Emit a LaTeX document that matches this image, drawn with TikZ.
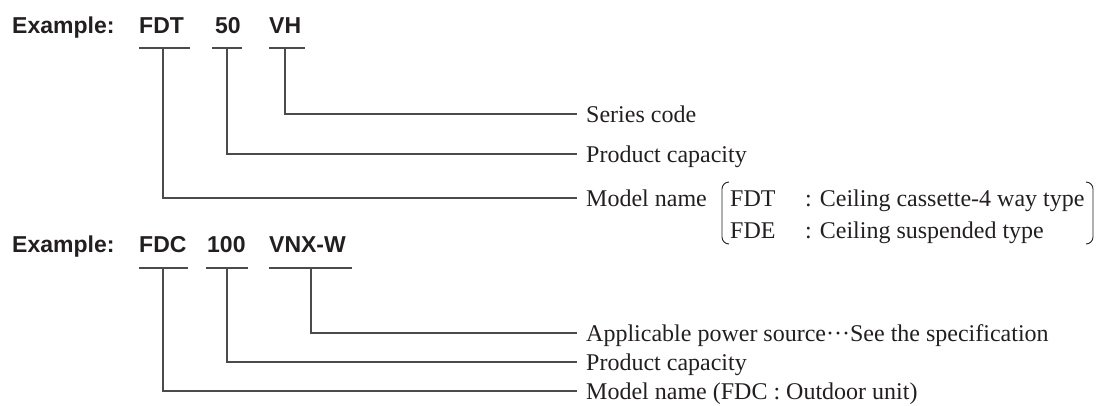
\documentclass[tikz,border=0pt]{standalone}
\usepackage{fontspec}
\setmainfont{Liberation Serif}
\newfontfamily\codefont{Liberation Sans}
\usetikzlibrary{positioning}
\definecolor{inkgray}{RGB}{35,31,32}
\definecolor{linegray}{RGB}{75,75,75}

\begin{document}
\begin{tikzpicture}[x=1pt,y=-1pt,
  code/.style={anchor=base west,inner sep=0pt,text=inkgray,font=\codefont\bfseries\fontsize{23}{27}\selectfont},
  desc/.style={anchor=west,inner sep=0pt,text height=16pt,text depth=0pt,text=inkgray,font=\fontsize{24}{28}\selectfont},
  lead/.style={draw=linegray,line width=1.1pt},
  brk/.style={draw=inkgray,line width=0.9pt}]
\useasboundingbox (0,0) rectangle (1100,405);
\node[code] (ex1) at (12,33) {Example:};
\node[code] (fdt) at (139,33) {FDT};
\node[code] (c50) at (215,33) {50};
\node[code] (vh) at (269,33) {VH};
\coordinate (fdt-t) at (163,48);
\coordinate (c50-t) at (227,48);
\coordinate (vh-t) at (285,48);
\node[desc] (series) at (586,114) {Series code};
\node[desc] (cap1) at (586,154) {Product capacity};
\node[desc] (model1) at (586,198) {Model name};
\node[desc] (fdtk) at (730,198) {FDT};
\node[desc] (fdtt) at (805,198) {: Ceiling cassette-4 way type};
\node[desc] (fdek) at (730,230) {FDE};
\node[desc] (fdet) at (805,230) {: Ceiling suspended type};
\draw[lead] ([xshift=-24]fdt-t) -- ([xshift=27]fdt-t);
\draw[lead] ([xshift=-15]c50-t) -- ([xshift=15]c50-t);
\draw[lead] ([xshift=-16]vh-t) -- ([xshift=20]vh-t);
\draw[lead] (vh-t) |- ([xshift=-9]series.west);
\draw[lead] (c50-t) |- ([xshift=-9]cap1.west);
\draw[lead] (fdt-t) |- ([xshift=-9]model1.west);
\draw[brk] (729,182) to[out=180,in=90] (722,189) -- (722,237) to[out=-90,in=180] (729,244);
\draw[brk] (1086,182) to[out=0,in=90] (1093,189) -- (1093,237) to[out=-90,in=0] (1086,244);
\node[code] (ex2) at (12,252) {Example:};
\node[code] (fdc) at (139,252) {FDC};
\node[code] (c100) at (207,252) {100};
\node[code] (vnx) at (269,252) {VNX-W};
\coordinate (fdc-t) at (163,268);
\coordinate (c100-t) at (227,268);
\coordinate (vnx-t) at (311,268);
\node[desc] (power) at (586,333) {Applicable power source···See the specification};
\node[desc] (cap2) at (586,362) {Product capacity};
\node[desc] (model2) at (586,391) {Model name (FDC : Outdoor unit)};
\draw[lead] ([xshift=-24]fdc-t) -- ([xshift=25]fdc-t);
\draw[lead] ([xshift=-21]c100-t) -- ([xshift=21]c100-t);
\draw[lead] ([xshift=-42]vnx-t) -- ([xshift=41]vnx-t);
\draw[lead] (vnx-t) |- ([xshift=-9]power.west);
\draw[lead] (c100-t) |- ([xshift=-9]cap2.west);
\draw[lead] (fdc-t) |- ([xshift=-9]model2.west);
\end{tikzpicture}
\end{document}
